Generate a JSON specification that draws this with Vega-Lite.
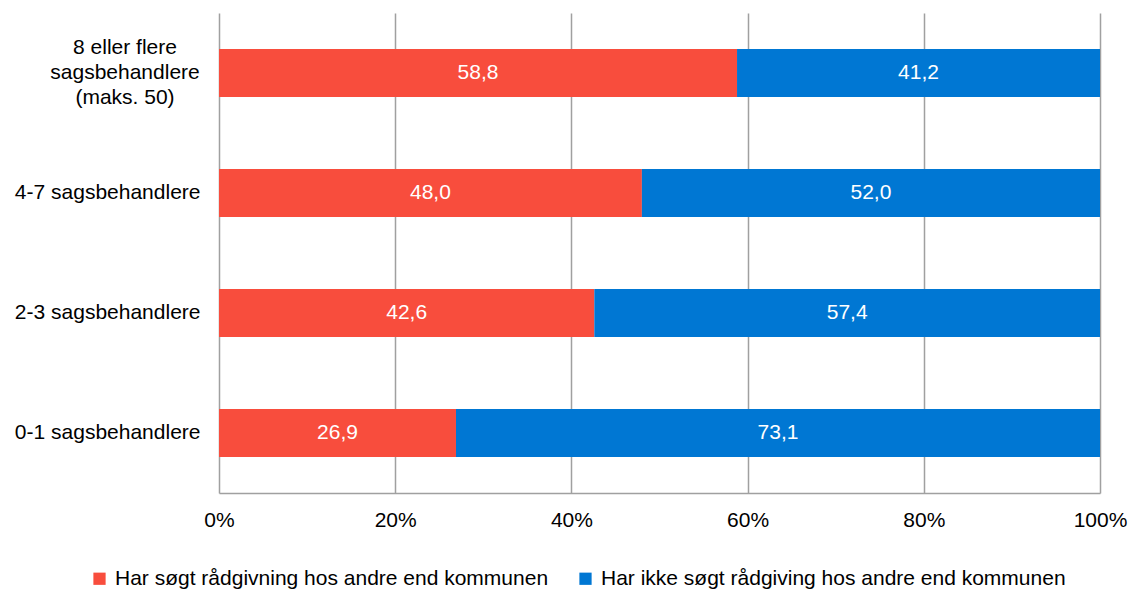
{
  "$schema": "https://vega.github.io/schema/vega-lite/v6.json",
  "autosize": {"type": "none"},
  "width": 881,
  "height": 480,
  "padding": {"left": 219, "top": 13, "right": 29, "bottom": 96},
  "background": "white",
  "config": {
    "view": {"stroke": null},
    "font": "Liberation Sans",
    "axis": {"labelFont": "Liberation Sans", "labelFontSize": 21, "labelColor": "#000000"}
  },
  "data": {
    "values": [
      {"group": "8 eller flere sagsbehandlere (maks. 50)", "series": "Har søgt rådgivning hos andre end kommunen", "value": 58.8},
      {"group": "8 eller flere sagsbehandlere (maks. 50)", "series": "Har ikke søgt rådgiving hos andre end kommunen", "value": 41.2},
      {"group": "4-7 sagsbehandlere", "series": "Har søgt rådgivning hos andre end kommunen", "value": 48.0},
      {"group": "4-7 sagsbehandlere", "series": "Har ikke søgt rådgiving hos andre end kommunen", "value": 52.0},
      {"group": "2-3 sagsbehandlere", "series": "Har søgt rådgivning hos andre end kommunen", "value": 42.6},
      {"group": "2-3 sagsbehandlere", "series": "Har ikke søgt rådgiving hos andre end kommunen", "value": 57.4},
      {"group": "0-1 sagsbehandlere", "series": "Har søgt rådgivning hos andre end kommunen", "value": 26.9},
      {"group": "0-1 sagsbehandlere", "series": "Har ikke søgt rådgiving hos andre end kommunen", "value": 73.1}
    ]
  },
  "transform": [
    {"calculate": "datum.series == 'Har søgt rådgivning hos andre end kommunen' ? 0 : 1", "as": "ord"},
    {"calculate": "datum.ord == 0 ? datum.value / 2 : 100 - datum.value / 2", "as": "mid"},
    {"calculate": "replace(format(datum.value, '.1f'), '.', ',')", "as": "txt"}
  ],
  "encoding": {
    "y": {
      "field": "group",
      "type": "nominal",
      "sort": ["8 eller flere sagsbehandlere (maks. 50)", "4-7 sagsbehandlere", "2-3 sagsbehandlere", "0-1 sagsbehandlere"],
      "scale": {"paddingInner": 0.6, "paddingOuter": 0.3},
      "axis": {
        "title": null,
        "domain": false,
        "ticks": false,
        "grid": false,
        "labelLimit": 400,
        "labelLineHeight": 25,
        "labelBaseline": "middle",
        "labelExpr": "datum.value == '8 eller flere sagsbehandlere (maks. 50)' ? ['8 eller flere', 'sagsbehandlere', '(maks. 50)'] : datum.label",
        "labelAlign": {"condition": {"test": "datum.value == '8 eller flere sagsbehandlere (maks. 50)'", "value": "center"}, "value": "right"},
        "labelPadding": {"condition": {"test": "datum.value == '8 eller flere sagsbehandlere (maks. 50)'", "value": 94.5}, "value": 19},
        "labelOffset": {"condition": {"test": "datum.value == '8 eller flere sagsbehandlere (maks. 50)'", "value": -25}, "value": 0}
      }
    }
  },
  "layer": [
    {
      "mark": {"type": "bar"},
      "encoding": {
        "x": {
          "field": "value",
          "type": "quantitative",
          "stack": "zero",
          "scale": {"domain": [0, 100], "nice": false},
          "axis": {
            "title": null,
            "values": [0, 20, 40, 60, 80, 100],
            "labelExpr": "datum.value + '%'",
            "labelFlush": false,
            "labelOverlap": false,
            "labelPadding": 16,
            "ticks": false,
            "grid": true,
            "gridColor": "#A0A0A0",
            "gridWidth": 1.5,
            "domain": true,
            "domainColor": "#A0A0A0",
            "domainWidth": 1.5
          }
        },
        "color": {
          "field": "series",
          "type": "nominal",
          "scale": {
            "domain": ["Har søgt rådgivning hos andre end kommunen", "Har ikke søgt rådgiving hos andre end kommunen"],
            "range": ["#F84D3D", "#0077D3"]
          },
          "legend": {
            "title": null,
            "orient": "none",
            "direction": "horizontal",
            "legendX": -130,
            "legendY": 555,
            "symbolType": "square",
            "symbolSize": 150,
            "symbolStrokeWidth": 0,
            "labelFont": "Liberation Sans",
            "labelFontSize": 21,
            "labelColor": "#000000",
            "labelLimit": 800,
            "labelOffset": 5,
            "columnPadding": 26
          }
        },
        "order": {"field": "ord", "type": "quantitative"}
      }
    },
    {
      "mark": {"type": "text", "color": "white", "fontSize": 21, "font": "Liberation Sans", "baseline": "middle", "align": "center"},
      "encoding": {
        "x": {"field": "mid", "type": "quantitative"},
        "text": {"field": "txt", "type": "nominal"}
      }
    }
  ]
}
